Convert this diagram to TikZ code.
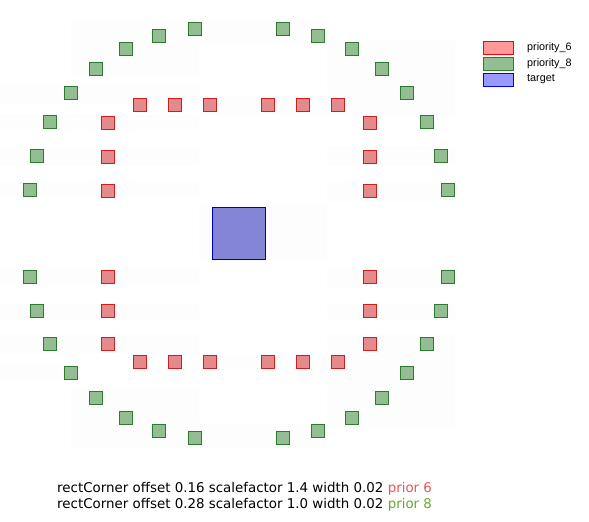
\documentclass[tikz,border=0pt]{standalone}
\usepackage{fontspec}
\setmainfont{DejaVu Sans}
\newfontfamily\legfont{Liberation Sans}
\definecolor{redb}{HTML}{CC2020}
\definecolor{redf}{HTML}{E48A8A}
\definecolor{grnb}{HTML}{2F7A2F}
\definecolor{grnf}{HTML}{92BE92}
\definecolor{blub}{HTML}{0000B0}
\definecolor{bluf}{HTML}{8585D5}
\definecolor{band}{HTML}{FDFDFD}
\definecolor{txtred}{HTML}{F05555}
\definecolor{txtgrn}{HTML}{66AA33}
\begin{document}
\begin{tikzpicture}[x=1pt,y=-1pt,
  rsq/.style={draw=redb,fill=redf,line width=0.9pt,minimum size=13.5pt,inner sep=0pt},
  gsq/.style={draw=grnb,fill=grnf,line width=0.9pt,minimum size=13.5pt,inner sep=0pt},
  tgt/.style={draw=blub,fill=bluf,line width=0.9pt,minimum width=53.5pt,minimum height=52.5pt,inner sep=0pt},
  legbox/.style={line width=0.9pt,minimum width=30pt,minimum height=12.5pt,inner sep=0pt,anchor=north west},
  legtxt/.style={font=\legfont\fontsize{10.8}{12}\selectfont,anchor=west,inner sep=0pt},
  caption/.style={font=\fontsize{13.4}{15}\selectfont,anchor=base west,inner sep=0pt}]
\useasboundingbox (0,0) rectangle (589,522);
\fill[white] (0,0) rectangle (589,522);
% faint bands
\foreach \a/\b/\c/\d in {71/21/327/45, 71/45/199/76, 327/41/455/115, 0/84/199/103, 199/95/327/115,
  0/114/199/130, 0/149/199/166, 327/146/455/166, 0/182/199/197, 327/182/455/202, 199/205/327/260,
  0/267/199/284, 327/267/455/288, 0/303/199/319, 327/303/455/319, 0/334/199/354, 327/334/455/428,
  0/365/71/380, 199/355/327/370, 71/388/199/423, 71/423/327/448}
  \fill[band] (\a,\b) rectangle (\c,\d);
% red squares
\foreach \x/\y [count=\i] in {140/105,175/105,210/105,268/105,303/105,338/105,
  140/362,175/362,210/362,268/362,303/362,338/362,
  108/123,108/157,108/191,108/277,108/311,108/344,
  370/123,370/157,370/191,370/277,370/311,370/344}
  \node[rsq] (r\i) at (\x,\y) {};
% green squares
\foreach \x/\y [count=\i] in {30/190,37/156,50/122,71/93,96/69,126/49,159/36,195/29,
  283/29,318/36,352/49,382/69,407/93,427/122,441/156,448/190,
  30/277,37/311,50/344,71/373,96/398,126/418,159/431,195/438,
  283/438,318/431,352/418,382/398,407/373,427/344,441/311,448/277}
  \node[gsq] (g\i) at (\x,\y) {};
% target
\node[tgt] (target) at (239,233.5) {};
% legend
\node[legbox,draw=red,fill=red!40] (l6) at (483,41) {};
\node[legbox,draw=grnb,fill=grnf] (l8) at (483,57) {};
\node[legbox,draw=blue,fill=blue!40] (lt) at (483,73) {};
\node[legtxt] (t6) at (527,47.5) {priority\_6};
\node[legtxt] (t8) at (527,63.5) {priority\_8};
\node[legtxt] (tt) at (527,79.5) {target};
% captions
\node[caption] (c1) at (57,492.5) {rectCorner offset 0.16 scalefactor 1.4 width 0.02 \textcolor{txtred}{prior 6}};
\node[caption] (c2) at (57,508) {rectCorner offset 0.28 scalefactor 1.0 width 0.02 \textcolor{txtgrn}{prior 8}};
\end{tikzpicture}
\end{document}
